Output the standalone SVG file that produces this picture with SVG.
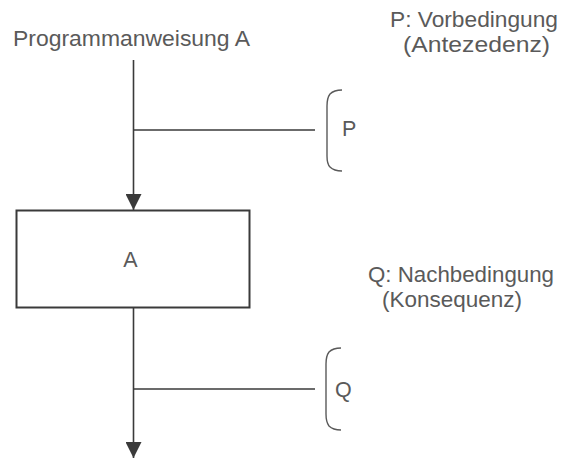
<svg xmlns="http://www.w3.org/2000/svg" width="561" height="465" viewBox="0 0 561 465">
  <style>
    .t { font-family: "Liberation Sans", Arial, sans-serif; font-size: 21.5px; fill: #5a5a5a; }
    .ln { stroke: #3a3a3a; stroke-width: 1.6; fill: none; }
    .br { stroke: #5a5a5a; stroke-width: 1.4; fill: none; }
  </style>
  <defs>
    <marker id="arrow" viewBox="0 0 16 16" refX="16" refY="8" markerWidth="16" markerHeight="16" markerUnits="userSpaceOnUse" orient="auto">
      <path d="M0,0 L16,8 L0,16 Z" fill="#3a3a3a"/>
    </marker>
  </defs>
  <rect width="561" height="465" fill="#ffffff"/>

  <g id="connectors">
    <line class="ln" x1="133.5" y1="60" x2="133.5" y2="210" marker-end="url(#arrow)"/>
    <line class="ln" x1="133.5" y1="130" x2="315" y2="130"/>
    <line class="ln" x1="133.5" y1="308" x2="133.5" y2="458" marker-end="url(#arrow)"/>
    <line class="ln" x1="133.5" y1="389" x2="315" y2="389"/>
  </g>

  <g id="start-label">
    <text class="t" x="13" y="46" textLength="237" lengthAdjust="spacingAndGlyphs">Programmanweisung A</text>
  </g>

  <g id="node-A">
    <rect x="16.5" y="210.5" width="233" height="97" fill="#ffffff" stroke="#3a3a3a" stroke-width="2"/>
    <text class="t" x="130.5" y="267" text-anchor="middle">A</text>
  </g>

  <g id="bracket-P">
    <path class="br" d="M342,90 Q334,90 330,94 Q327,98 327,106 L327,156 Q327,164 330,167 Q334,171 342,171"/>
    <text class="t" x="342" y="136">P</text>
  </g>

  <g id="bracket-Q">
    <path class="br" d="M341,348 Q333,348 329,352 Q326,356 326,364 L326,414 Q326,422 329,426 Q333,430 341,430"/>
    <text class="t" x="335" y="397">Q</text>
  </g>

  <g id="legend-P">
    <text class="t" x="390" y="27" textLength="168" lengthAdjust="spacingAndGlyphs">P: Vorbedingung</text>
    <text class="t" x="403" y="52" textLength="147" lengthAdjust="spacingAndGlyphs">(Antezedenz)</text>
  </g>

  <g id="legend-Q">
    <text class="t" x="368" y="282" textLength="186" lengthAdjust="spacingAndGlyphs">Q: Nachbedingung</text>
    <text class="t" x="382" y="307" textLength="140" lengthAdjust="spacingAndGlyphs">(Konsequenz)</text>
  </g>
</svg>
